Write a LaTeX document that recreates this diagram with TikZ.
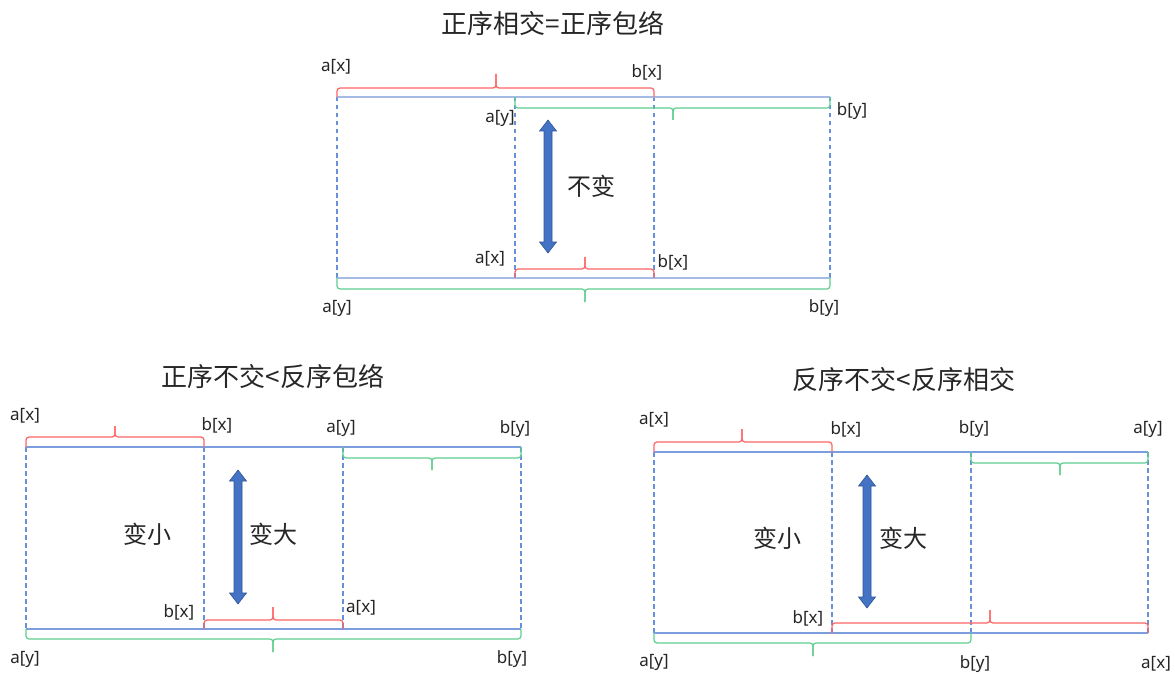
\documentclass[tikz,border=0pt]{standalone}
\usepackage{fontspec}
\newfontfamily\cjk{Noto Sans CJK SC}
\newfontfamily\lab{Noto Sans}
\definecolor{dashblue}{HTML}{6790DA}
\definecolor{lineblue}{HTML}{7D9EDC}
\definecolor{lightblue}{HTML}{A5BBE5}
\definecolor{bred}{HTML}{FF6464}
\definecolor{bgreen}{HTML}{5FCF8F}
\definecolor{arrfill}{HTML}{4472C4}
\definecolor{arrdraw}{HTML}{2F5597}
\definecolor{txt}{HTML}{262626}
\tikzset{
  guide/.style={dashblue, line width=1.3pt, dash pattern=on 4.5pt off 3.5pt},
  bar/.style={lineblue, line width=1.2pt},
  barlight/.style={lightblue, line width=1.5pt},
  redbrace/.style={bred, line width=1.2pt, rounded corners=3pt},
  greenbrace/.style={bgreen, line width=1.2pt, rounded corners=3pt},
  bigarrow/.style={fill=arrfill, draw=arrdraw, line width=0.6pt},
  lbl/.style={font=\lab\fontsize{17}{19}\selectfont, text=txt, inner sep=0pt},
  title/.style={font=\cjk\fontsize{26}{29}\selectfont, text=txt, inner sep=0pt},
  word/.style={font=\cjk\fontsize{24}{27}\selectfont, text=txt, inner sep=0pt}
}
% brace: #1 style, #2 x1, #3 x2, #4 base y, #5 horizontal y, #6 tip y, #7 tip x
\newcommand\mybrace[7]{%
  \draw[#1] (#2,#4) -- (#2,#5) -- (#7,#5) -- (#7,#6);
  \draw[#1] (#3,#4) -- (#3,#5) -- (#7,#5) -- (#7,#6);
}
% arrow: #1 x, #2 top y, #3 bottom y
\newcommand\myarrow[3]{%
  \path[bigarrow] (#1,#2) -- ++(8.5,11) -- ++(-4.5,0) -- (#1+4,#3-11) -- ++(4.5,0)
    -- (#1,#3) -- ++(-8.5,-11) -- ++(4.5,0) -- (#1-4,#2+11) -- ++(-4.5,0) -- cycle;
}
\begin{document}
\begin{tikzpicture}[x=1pt,y=-1pt]
\useasboundingbox (0,0) rectangle (1175,674);
\fill[white] (0,0) rectangle (1175,674);

% ---------------- top diagram ----------------
\node[title] (t1) at (553,23) {正序相交=正序包络};
\foreach \x in {337,515,654,830} \draw[guide] (\x,97) -- (\x,278);
\draw[barlight] (337,97) -- (830,97);
\draw[barlight] (337,278) -- (830,278);
\mybrace{redbrace}{337}{654}{97}{88}{74}{496}
\mybrace{greenbrace}{515}{830}{97}{108}{120}{673}
\mybrace{redbrace}{515}{654}{278}{269}{257}{585}
\mybrace{greenbrace}{337}{830}{278}{289}{302}{585}
\myarrow{548}{120}{253}
\node[word] (w1) at (591,186) {不变};
\node[lbl] (l1) at (336,67) {a[x]};
\node[lbl] (l2) at (647,72) {b[x]};
\node[lbl] (l3) at (500,118) {a[y]};
\node[lbl] (l4) at (852,111) {b[y]};
\node[lbl] (l5) at (490,259) {a[x]};
\node[lbl] (l6) at (673,262) {b[x]};
\node[lbl] (l7) at (337,308) {a[y]};
\node[lbl] (l8) at (824,308) {b[y]};

% ---------------- bottom-left diagram ----------------
\node[title] (t2) at (273,376) {正序不交<反序包络};
\foreach \x in {26,204,343,521} \draw[guide] (\x,447) -- (\x,629);
\draw[bar] (26,447) -- (521,447);
\draw[bar] (26,629) -- (521,629);
\mybrace{redbrace}{26}{204}{447}{437}{426}{115}
\mybrace{greenbrace}{343}{521}{447}{458}{470}{432}
\mybrace{redbrace}{204}{343}{629}{620}{607}{273}
\mybrace{greenbrace}{26}{521}{629}{639}{652}{273}
\myarrow{238}{470}{604}
\node[word] (w2) at (147,534) {变小};
\node[word] (w3) at (273,534) {变大};
\node[lbl] (m1) at (25,416) {a[x]};
\node[lbl] (m2) at (217,425) {b[x]};
\node[lbl] (m3) at (341,428) {a[y]};
\node[lbl] (m4) at (515,429) {b[y]};
\node[lbl] (m5) at (179,612) {b[x]};
\node[lbl] (m6) at (361,608) {a[x]};
\node[lbl] (m7) at (25,659) {a[y]};
\node[lbl] (m8) at (512,659) {b[y]};

% ---------------- bottom-right diagram ----------------
\node[title] (t3) at (904,380) {反序不交<反序相交};
\foreach \x in {654,832,971,1148} \draw[guide] (\x,452) -- (\x,633);
\draw[bar] (654,452) -- (1148,452);
\draw[bar] (654,633) -- (1148,633);
\mybrace{redbrace}{654}{832}{452}{442}{429}{742}
\mybrace{greenbrace}{971}{1148}{452}{463}{475}{1060}
\mybrace{redbrace}{832}{1148}{633}{623}{610}{990}
\mybrace{greenbrace}{654}{971}{633}{643}{656}{813}
\myarrow{867}{475}{608}
\node[word] (w4) at (777,538) {变小};
\node[word] (w5) at (903,538) {变大};
\node[lbl] (r1) at (654,420) {a[x]};
\node[lbl] (r2) at (846,429) {b[x]};
\node[lbl] (r3) at (974,429) {b[y]};
\node[lbl] (r4) at (1148,429) {a[y]};
\node[lbl] (r5) at (808,618) {b[x]};
\node[lbl] (r6) at (654,662) {a[y]};
\node[lbl] (r7) at (975,664) {b[y]};
\node[lbl] (r8) at (1156,664) {a[x]};
\end{tikzpicture}
\end{document}
